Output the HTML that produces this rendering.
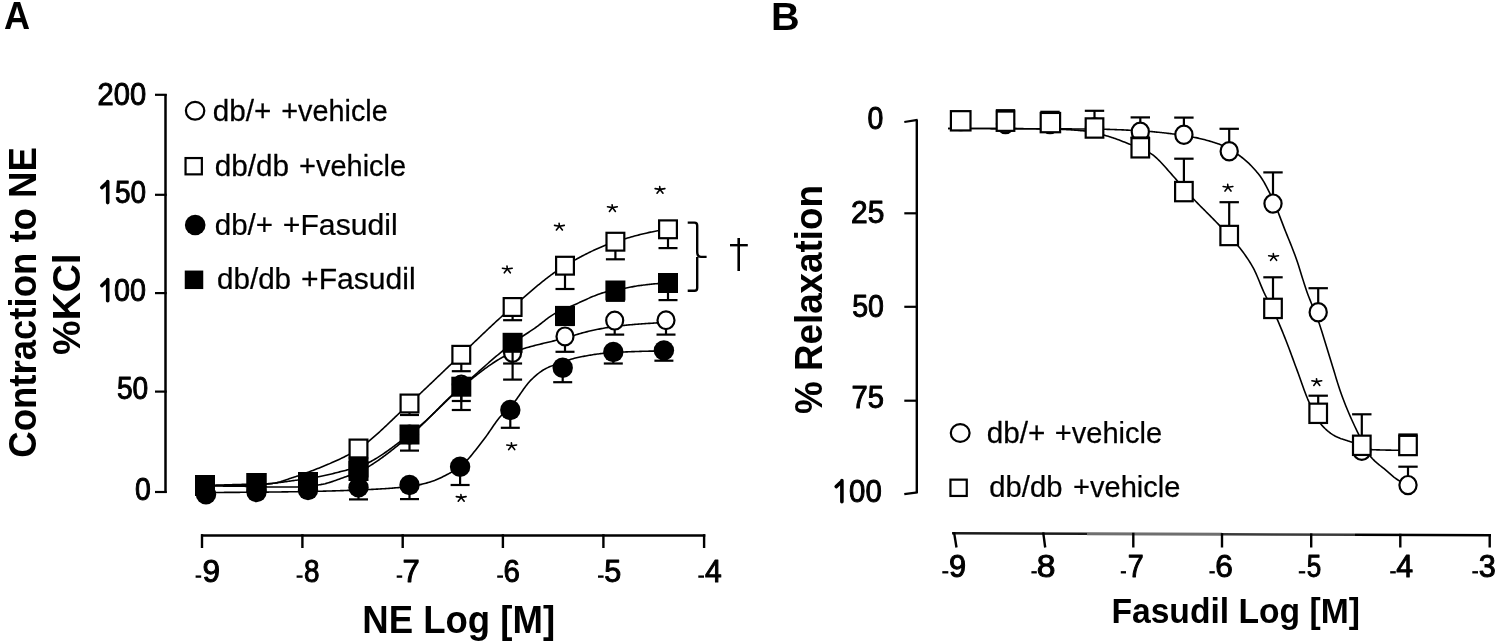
<!DOCTYPE html>
<html><head><meta charset="utf-8"><style>
html,body{margin:0;padding:0;background:#fff;}
svg{display:block;will-change:transform;}
text{font-family:"Liberation Sans",sans-serif;}
</style></head><body>
<svg width="1500" height="644" viewBox="0 0 1500 644">
<rect width="1500" height="644" fill="#fff"/>
<text transform="translate(4.10,29.00) scale(0.9505,1)" font-size="38.00" font-weight="bold" fill="#000">A</text>
<line x1="165.50" y1="94.00" x2="165.50" y2="493.00" stroke="#000" stroke-width="2.5" stroke-linecap="butt"/>
<line x1="155.00" y1="94.80" x2="166.70" y2="94.80" stroke="#000" stroke-width="2.2" stroke-linecap="butt"/>
<line x1="155.00" y1="194.80" x2="166.70" y2="194.80" stroke="#000" stroke-width="2.2" stroke-linecap="butt"/>
<line x1="155.00" y1="293.10" x2="166.70" y2="293.10" stroke="#000" stroke-width="2.2" stroke-linecap="butt"/>
<line x1="155.00" y1="391.60" x2="166.70" y2="391.60" stroke="#000" stroke-width="2.2" stroke-linecap="butt"/>
<line x1="155.00" y1="492.00" x2="166.70" y2="492.00" stroke="#000" stroke-width="2.2" stroke-linecap="butt"/>
<text transform="translate(97.51,104.50) scale(0.9372,1)" font-size="31.07" font-weight="normal" fill="#000" stroke="#000" stroke-width="1.0" stroke-linejoin="round">200</text>
<text transform="translate(114.93,202.70) scale(0.8999,1)" font-size="31.07" font-weight="normal" fill="#000" stroke="#000" stroke-width="1.0" stroke-linejoin="round">50</text>
<path d="M101.80,187.60 L107.70,182.20 M107.70,181.60 L107.70,202.60" fill="none" stroke="#000" stroke-width="3.6" stroke-linecap="round" stroke-linejoin="round"/>
<text transform="translate(114.11,300.70) scale(0.9241,1)" font-size="31.07" font-weight="normal" fill="#000" stroke="#000" stroke-width="1.0" stroke-linejoin="round">00</text>
<path d="M101.80,285.60 L107.70,280.20 M107.70,279.60 L107.70,300.80" fill="none" stroke="#000" stroke-width="3.6" stroke-linecap="round" stroke-linejoin="round"/>
<text transform="translate(116.93,398.90) scale(0.9060,1)" font-size="31.07" font-weight="normal" fill="#000" stroke="#000" stroke-width="1.0" stroke-linejoin="round">50</text>
<text transform="translate(134.92,499.50) scale(0.9138,1)" font-size="31.07" font-weight="normal" fill="#000" stroke="#000" stroke-width="1.0" stroke-linejoin="round">0</text>
<line x1="201.00" y1="535.50" x2="705.30" y2="535.50" stroke="#000" stroke-width="2.6" stroke-linecap="butt"/>
<line x1="202.00" y1="534.20" x2="202.00" y2="548.00" stroke="#000" stroke-width="2.4" stroke-linecap="butt"/>
<line x1="302.40" y1="534.20" x2="302.40" y2="548.00" stroke="#000" stroke-width="2.4" stroke-linecap="butt"/>
<line x1="402.70" y1="534.20" x2="402.70" y2="548.00" stroke="#000" stroke-width="2.4" stroke-linecap="butt"/>
<line x1="502.90" y1="534.20" x2="502.90" y2="548.00" stroke="#000" stroke-width="2.4" stroke-linecap="butt"/>
<line x1="603.40" y1="534.20" x2="603.40" y2="548.00" stroke="#000" stroke-width="2.4" stroke-linecap="butt"/>
<line x1="704.10" y1="534.20" x2="704.10" y2="548.00" stroke="#000" stroke-width="2.4" stroke-linecap="butt"/>
<rect x="195.60" y="575.45" width="5.60" height="2.3" fill="#000"/>
<text transform="translate(202.49,581.90) scale(1.0163,1)" font-size="31.07" font-weight="normal" fill="#000" stroke="#000" stroke-width="1.0" stroke-linejoin="round">9</text>
<rect x="296.60" y="575.45" width="6.00" height="2.3" fill="#000"/>
<text transform="translate(303.99,581.90) scale(0.8972,1)" font-size="31.07" font-weight="normal" fill="#000" stroke="#000" stroke-width="1.0" stroke-linejoin="round">8</text>
<rect x="396.70" y="575.45" width="5.50" height="2.3" fill="#000"/>
<text transform="translate(402.55,581.90) scale(0.9975,1)" font-size="31.07" font-weight="normal" fill="#000" stroke="#000" stroke-width="1.0" stroke-linejoin="round">7</text>
<rect x="497.20" y="575.45" width="5.80" height="2.3" fill="#000"/>
<text transform="translate(503.50,581.90) scale(0.9482,1)" font-size="31.07" font-weight="normal" fill="#000" stroke="#000" stroke-width="1.0" stroke-linejoin="round">6</text>
<rect x="598.00" y="575.45" width="5.60" height="2.3" fill="#000"/>
<text transform="translate(604.17,581.90) scale(0.9836,1)" font-size="31.07" font-weight="normal" fill="#000" stroke="#000" stroke-width="1.0" stroke-linejoin="round">5</text>
<rect x="698.30" y="575.45" width="5.70" height="2.3" fill="#000"/>
<text transform="translate(705.03,581.90) scale(0.9676,1)" font-size="31.07" font-weight="normal" fill="#000" stroke="#000" stroke-width="1.0" stroke-linejoin="round">4</text>
<text transform="translate(362.32,632.50) scale(0.9618,1)" font-size="38.00" font-weight="bold" fill="#000">NE Log [M]</text>
<text transform="translate(36.30,457.66) rotate(-90) scale(0.9617,1)" font-size="38" font-weight="bold">Contraction to NE</text>
<text transform="translate(79.80,354.97) rotate(-90) scale(1.0244,1)" font-size="38" font-weight="bold">%KCl</text>
<ellipse cx="195.10" cy="110.80" rx="9.20" ry="8.90" fill="#fff" stroke="#000" stroke-width="2.2"/>
<text transform="translate(212.63,120.88) scale(0.9931,1)" font-size="29.94" font-weight="normal" fill="#000" stroke="#000" stroke-width="0.25" stroke-linejoin="round">db/+</text>
<text transform="translate(281.18,120.88) scale(0.9635,1)" font-size="29.94" font-weight="normal" fill="#000" stroke="#000" stroke-width="0.25" stroke-linejoin="round">+vehicle</text>
<rect x="185.55" y="158.05" width="16.30" height="16.30" fill="#fff" stroke="#000" stroke-width="2.2"/>
<text transform="translate(214.73,175.57) scale(0.9930,1)" font-size="29.94" font-weight="normal" fill="#000" stroke="#000" stroke-width="0.25" stroke-linejoin="round">db/db</text>
<text transform="translate(298.97,175.57) scale(0.9690,1)" font-size="29.94" font-weight="normal" fill="#000" stroke="#000" stroke-width="0.25" stroke-linejoin="round">+vehicle</text>
<circle cx="195.20" cy="225.00" r="10.30" fill="#000"/>
<text transform="translate(214.74,235.47) scale(0.9860,1)" font-size="29.94" font-weight="normal" fill="#000" stroke="#000" stroke-width="0.25" stroke-linejoin="round">db/+</text>
<text transform="translate(282.82,235.47) scale(1.0078,1)" font-size="29.94" font-weight="normal" fill="#000" stroke="#000" stroke-width="0.25" stroke-linejoin="round">+Fasudil</text>
<rect x="184.75" y="270.55" width="18.50" height="18.50" fill="#000"/>
<text transform="translate(216.94,288.98) scale(0.9902,1)" font-size="29.94" font-weight="normal" fill="#000" stroke="#000" stroke-width="0.25" stroke-linejoin="round">db/db</text>
<text transform="translate(301.12,288.98) scale(1.0042,1)" font-size="29.94" font-weight="normal" fill="#000" stroke="#000" stroke-width="0.25" stroke-linejoin="round">+Fasudil</text>
<polyline points="205.00,486.00 206.16,486.00 207.31,486.00 208.47,486.00 209.62,486.01 210.78,486.01 211.93,486.01 213.09,486.02 214.24,486.02 215.40,486.02 216.55,486.03 217.71,486.04 218.86,486.04 220.02,486.05 221.18,486.06 222.33,486.07 223.49,486.08 224.64,486.09 225.80,486.09 226.95,486.11 228.11,486.12 229.26,486.13 230.42,486.14 231.57,486.15 232.73,486.16 233.88,486.18 235.04,486.19 236.20,486.20 237.35,486.22 238.51,486.23 239.66,486.25 240.82,486.26 241.97,486.28 243.13,486.30 244.28,486.31 245.44,486.33 246.59,486.35 247.75,486.36 248.90,486.38 250.06,486.40 251.22,486.42 252.37,486.44 253.53,486.46 254.68,486.48 255.84,486.50 256.99,486.52 258.15,486.56 259.30,486.60 260.46,486.66 261.61,486.71 262.77,486.77 263.92,486.82 265.08,486.88 266.24,486.92 267.39,486.96 268.55,486.99 269.70,487.00 270.86,487.00 272.01,487.00 273.17,487.00 274.32,487.00 275.48,487.00 276.63,487.00 277.79,487.00 278.94,487.00 280.10,487.00 281.26,487.00 282.41,487.00 283.57,487.00 284.72,487.00 285.88,487.00 287.03,487.00 288.19,487.00 289.34,487.00 290.50,487.00 291.65,487.00 292.81,487.00 293.96,487.00 295.12,487.00 296.28,486.98 297.43,486.94 298.59,486.88 299.74,486.80 300.90,486.70 302.05,486.59 303.21,486.48 304.36,486.36 305.52,486.24 306.67,486.13 307.83,486.02 308.98,485.91 310.14,485.81 311.30,485.70 312.45,485.59 313.61,485.48 314.76,485.36 315.92,485.24 317.07,485.10 318.23,484.95 319.38,484.79 320.54,484.62 321.69,484.41 322.85,484.19 324.01,483.93 325.16,483.66 326.32,483.36 327.47,483.05 328.63,482.72 329.78,482.37 330.94,482.00 332.09,481.62 333.25,481.24 334.40,480.84 335.56,480.43 336.71,480.02 337.87,479.60 339.03,479.18 340.18,478.75 341.34,478.33 342.49,477.91 343.65,477.49 344.80,477.07 345.96,476.66 347.11,476.26 348.27,475.87 349.42,475.47 350.58,475.08 351.73,474.68 352.89,474.27 354.05,473.84 355.20,473.40 356.36,472.93 357.51,472.44 358.67,471.92 359.82,471.38 360.98,470.82 362.13,470.23 363.29,469.63 364.44,469.01 365.60,468.37 366.75,467.72 367.91,467.04 369.07,466.36 370.22,465.65 371.38,464.93 372.53,464.20 373.69,463.45 374.84,462.69 376.00,461.91 377.15,461.12 378.31,460.32 379.46,459.51 380.62,458.68 381.77,457.85 382.93,457.01 384.09,456.15 385.24,455.29 386.40,454.42 387.55,453.54 388.71,452.65 389.86,451.76 391.02,450.86 392.17,449.95 393.33,449.04 394.48,448.12 395.64,447.20 396.79,446.28 397.95,445.35 399.11,444.42 400.26,443.49 401.42,442.55 402.57,441.61 403.73,440.68 404.88,439.74 406.04,438.80 407.19,437.87 408.35,436.93 409.50,436.00 410.66,435.05 411.81,434.09 412.97,433.11 414.13,432.10 415.28,431.08 416.44,430.05 417.59,428.99 418.75,427.92 419.90,426.84 421.06,425.75 422.21,424.64 423.37,423.52 424.52,422.39 425.68,421.26 426.83,420.11 427.99,418.96 429.15,417.80 430.30,416.64 431.46,415.47 432.61,414.30 433.77,413.13 434.92,411.96 436.08,410.79 437.23,409.61 438.39,408.44 439.54,407.28 440.70,406.12 441.85,404.96 443.01,403.81 444.17,402.66 445.32,401.52 446.48,400.40 447.63,399.28 448.79,398.17 449.94,397.08 451.10,395.99 452.25,394.93 453.41,393.87 454.56,392.84 455.72,391.82 456.87,390.81 458.03,389.83 459.19,388.87 460.34,387.92 461.50,387.00 462.65,386.09 463.81,385.18 464.96,384.26 466.12,383.35 467.27,382.43 468.43,381.51 469.58,380.59 470.74,379.68 471.89,378.76 473.05,377.85 474.21,376.94 475.36,376.03 476.52,375.13 477.67,374.23 478.83,373.34 479.98,372.46 481.14,371.58 482.29,370.70 483.45,369.84 484.60,368.98 485.76,368.14 486.91,367.30 488.07,366.47 489.23,365.66 490.38,364.85 491.54,364.06 492.69,363.28 493.85,362.51 495.00,361.76 496.16,361.02 497.31,360.30 498.47,359.59 499.62,358.90 500.78,358.23 501.93,357.57 503.09,356.94 504.25,356.32 505.40,355.72 506.56,355.14 507.71,354.58 508.87,354.04 510.02,353.53 511.18,353.04 512.33,352.57 513.49,352.12 514.64,351.68 515.80,351.25 516.95,350.83 518.11,350.43 519.27,350.03 520.42,349.65 521.58,349.27 522.73,348.90 523.89,348.54 525.04,348.19 526.20,347.85 527.35,347.51 528.51,347.18 529.66,346.86 530.82,346.54 531.97,346.23 533.13,345.92 534.29,345.62 535.44,345.33 536.60,345.03 537.75,344.74 538.91,344.46 540.06,344.18 541.22,343.89 542.37,343.62 543.53,343.34 544.68,343.06 545.84,342.79 546.99,342.52 548.15,342.24 549.31,341.97 550.46,341.69 551.62,341.42 552.77,341.14 553.93,340.86 555.08,340.58 556.24,340.29 557.39,340.00 558.55,339.71 559.70,339.42 560.86,339.12 562.02,338.81 563.17,338.50 564.33,338.19 565.48,337.87 566.64,337.54 567.79,337.21 568.95,336.87 570.10,336.53 571.26,336.18 572.41,335.84 573.57,335.49 574.72,335.15 575.88,334.80 577.04,334.46 578.19,334.12 579.35,333.78 580.50,333.45 581.66,333.12 582.81,332.80 583.97,332.48 585.12,332.18 586.28,331.88 587.43,331.60 588.59,331.32 589.74,331.06 590.90,330.80 592.06,330.55 593.21,330.30 594.37,330.06 595.52,329.81 596.68,329.58 597.83,329.34 598.99,329.11 600.14,328.88 601.30,328.66 602.45,328.45 603.61,328.23 604.76,328.03 605.92,327.83 607.08,327.63 608.23,327.44 609.39,327.26 610.54,327.08 611.70,326.91 612.85,326.75 614.01,326.59 615.16,326.44 616.32,326.30 617.47,326.15 618.63,326.02 619.78,325.88 620.94,325.75 622.10,325.62 623.25,325.50 624.41,325.37 625.56,325.25 626.72,325.14 627.87,325.02 629.03,324.91 630.18,324.81 631.34,324.70 632.49,324.60 633.65,324.50 634.80,324.40 635.96,324.31 637.12,324.22 638.27,324.13 639.43,324.04 640.58,323.96 641.74,323.87 642.89,323.79 644.05,323.71 645.20,323.63 646.36,323.55 647.51,323.48 648.67,323.40 649.82,323.33 650.98,323.25 652.14,323.18 653.29,323.12 654.45,323.05 655.60,322.98 656.76,322.92 657.91,322.86 659.07,322.80 660.22,322.75 661.38,322.69 662.53,322.64 663.69,322.59 664.84,322.54 666.00,322.50" fill="none" stroke="#000" stroke-width="1.6" stroke-linejoin="round"/>
<polyline points="205.00,492.50 206.15,492.50 207.30,492.49 208.45,492.49 209.60,492.49 210.75,492.48 211.90,492.48 213.05,492.48 214.20,492.47 215.35,492.47 216.50,492.46 217.65,492.46 218.80,492.45 219.95,492.45 221.11,492.44 222.26,492.44 223.41,492.43 224.56,492.42 225.71,492.42 226.86,492.41 228.01,492.40 229.16,492.40 230.31,492.39 231.46,492.38 232.61,492.38 233.76,492.37 234.91,492.36 236.06,492.35 237.21,492.34 238.36,492.34 239.51,492.33 240.66,492.32 241.81,492.31 242.96,492.30 244.11,492.29 245.26,492.29 246.41,492.28 247.56,492.27 248.71,492.26 249.86,492.25 251.02,492.24 252.17,492.23 253.32,492.22 254.47,492.21 255.62,492.20 256.77,492.19 257.92,492.18 259.07,492.17 260.22,492.16 261.37,492.15 262.52,492.14 263.67,492.13 264.82,492.12 265.97,492.11 267.12,492.10 268.27,492.08 269.42,492.07 270.57,492.06 271.72,492.05 272.87,492.03 274.02,492.02 275.17,492.01 276.32,491.99 277.47,491.98 278.62,491.96 279.77,491.95 280.92,491.93 282.08,491.92 283.23,491.90 284.38,491.88 285.53,491.87 286.68,491.85 287.83,491.84 288.98,491.82 290.13,491.80 291.28,491.78 292.43,491.77 293.58,491.75 294.73,491.73 295.88,491.71 297.03,491.69 298.18,491.67 299.33,491.65 300.48,491.63 301.63,491.61 302.78,491.59 303.93,491.57 305.08,491.55 306.23,491.53 307.38,491.51 308.53,491.49 309.68,491.47 310.83,491.45 311.98,491.42 313.14,491.40 314.29,491.38 315.44,491.35 316.59,491.33 317.74,491.30 318.89,491.27 320.04,491.25 321.19,491.22 322.34,491.19 323.49,491.16 324.64,491.13 325.79,491.10 326.94,491.07 328.09,491.04 329.24,491.01 330.39,490.98 331.54,490.94 332.69,490.91 333.84,490.88 334.99,490.84 336.14,490.81 337.29,490.77 338.44,490.73 339.59,490.70 340.74,490.66 341.89,490.62 343.05,490.58 344.20,490.54 345.35,490.50 346.50,490.46 347.65,490.42 348.80,490.38 349.95,490.34 351.10,490.29 352.25,490.25 353.40,490.21 354.55,490.16 355.70,490.11 356.85,490.07 358.00,490.02 359.15,489.97 360.30,489.92 361.45,489.88 362.60,489.83 363.75,489.78 364.90,489.72 366.05,489.67 367.20,489.62 368.35,489.57 369.50,489.51 370.65,489.46 371.80,489.40 372.95,489.34 374.11,489.28 375.26,489.22 376.41,489.16 377.56,489.09 378.71,489.03 379.86,488.96 381.01,488.89 382.16,488.82 383.31,488.75 384.46,488.68 385.61,488.60 386.76,488.52 387.91,488.44 389.06,488.36 390.21,488.28 391.36,488.19 392.51,488.10 393.66,488.01 394.81,487.92 395.96,487.82 397.11,487.73 398.26,487.63 399.41,487.52 400.56,487.42 401.71,487.31 402.86,487.20 404.02,487.08 405.17,486.97 406.32,486.85 407.47,486.72 408.62,486.60 409.77,486.47 410.92,486.33 412.07,486.17 413.22,485.99 414.37,485.80 415.52,485.59 416.67,485.37 417.82,485.14 418.97,484.89 420.12,484.63 421.27,484.36 422.42,484.08 423.57,483.79 424.72,483.49 425.87,483.18 427.02,482.86 428.17,482.53 429.32,482.20 430.47,481.86 431.62,481.49 432.77,481.10 433.92,480.68 435.08,480.24 436.23,479.77 437.38,479.28 438.53,478.78 439.68,478.25 440.83,477.71 441.98,477.16 443.13,476.59 444.28,476.01 445.43,475.42 446.58,474.82 447.73,474.21 448.88,473.60 450.03,472.98 451.18,472.36 452.33,471.72 453.48,471.07 454.63,470.39 455.78,469.68 456.93,468.94 458.08,468.16 459.23,467.35 460.38,466.48 461.53,465.57 462.68,464.58 463.83,463.54 464.98,462.42 466.14,461.26 467.29,460.04 468.44,458.77 469.59,457.46 470.74,456.11 471.89,454.72 473.04,453.31 474.19,451.86 475.34,450.40 476.49,448.92 477.64,447.43 478.79,445.92 479.94,444.42 481.09,442.91 482.24,441.41 483.39,439.92 484.54,438.45 485.69,436.94 486.84,435.37 487.99,433.74 489.14,432.08 490.29,430.40 491.44,428.70 492.59,427.01 493.74,425.32 494.89,423.67 496.05,422.06 497.20,420.50 498.35,419.00 499.50,417.59 500.65,416.27 501.80,415.03 502.95,413.86 504.10,412.74 505.25,411.66 506.40,410.59 507.55,409.51 508.70,408.42 509.85,407.28 511.00,406.09 512.15,404.83 513.30,403.48 514.45,402.04 515.60,400.52 516.75,398.95 517.90,397.33 519.05,395.69 520.20,394.02 521.35,392.35 522.50,390.69 523.65,389.05 524.80,387.44 525.95,385.89 527.11,384.40 528.26,382.98 529.41,381.66 530.56,380.44 531.71,379.32 532.86,378.23 534.01,377.16 535.16,376.13 536.31,375.13 537.46,374.17 538.61,373.25 539.76,372.37 540.91,371.54 542.06,370.75 543.21,370.02 544.36,369.35 545.51,368.73 546.66,368.15 547.81,367.61 548.96,367.09 550.11,366.60 551.26,366.13 552.41,365.68 553.56,365.25 554.71,364.83 555.86,364.43 557.02,364.03 558.17,363.63 559.32,363.24 560.47,362.84 561.62,362.44 562.77,362.04 563.92,361.64 565.07,361.25 566.22,360.86 567.37,360.47 568.52,360.09 569.67,359.72 570.82,359.36 571.97,359.01 573.12,358.68 574.27,358.35 575.42,358.04 576.57,357.75 577.72,357.48 578.87,357.23 580.02,357.00 581.17,356.78 582.32,356.56 583.47,356.34 584.62,356.13 585.77,355.92 586.92,355.72 588.08,355.52 589.23,355.32 590.38,355.13 591.53,354.94 592.68,354.76 593.83,354.58 594.98,354.40 596.13,354.24 597.28,354.07 598.43,353.92 599.58,353.76 600.73,353.62 601.88,353.48 603.03,353.35 604.18,353.22 605.33,353.10 606.48,352.99 607.63,352.89 608.78,352.80 609.93,352.71 611.08,352.63 612.23,352.56 613.38,352.50 614.53,352.44 615.68,352.38 616.83,352.32 617.98,352.27 619.14,352.21 620.29,352.16 621.44,352.11 622.59,352.05 623.74,352.00 624.89,351.95 626.04,351.90 627.19,351.85 628.34,351.80 629.49,351.76 630.64,351.71 631.79,351.67 632.94,351.62 634.09,351.58 635.24,351.54 636.39,351.50 637.54,351.46 638.69,351.43 639.84,351.39 640.99,351.36 642.14,351.32 643.29,351.29 644.44,351.26 645.59,351.23 646.74,351.21 647.89,351.18 649.05,351.16 650.20,351.13 651.35,351.11 652.50,351.09 653.65,351.08 654.80,351.06 655.95,351.05 657.10,351.03 658.25,351.02 659.40,351.02 660.55,351.01 661.70,351.00 662.85,351.00 664.00,351.00" fill="none" stroke="#000" stroke-width="1.6" stroke-linejoin="round"/>
<polyline points="205.00,485.50 206.16,485.50 207.32,485.50 208.48,485.50 209.64,485.50 210.80,485.49 211.96,485.49 213.12,485.49 214.28,485.49 215.44,485.48 216.60,485.48 217.76,485.47 218.92,485.47 220.09,485.46 221.25,485.45 222.41,485.45 223.57,485.44 224.73,485.43 225.89,485.42 227.05,485.41 228.21,485.40 229.37,485.39 230.53,485.38 231.69,485.37 232.85,485.36 234.01,485.35 235.17,485.33 236.33,485.32 237.49,485.31 238.65,485.29 239.81,485.28 240.97,485.26 242.13,485.24 243.29,485.23 244.45,485.21 245.61,485.19 246.77,485.17 247.93,485.15 249.10,485.13 250.26,485.11 251.42,485.09 252.58,485.07 253.74,485.05 254.90,485.02 256.06,485.00 257.22,484.96 258.38,484.90 259.54,484.82 260.70,484.73 261.86,484.62 263.02,484.50 264.18,484.37 265.34,484.24 266.50,484.10 267.66,483.96 268.82,483.83 269.98,483.70 271.14,483.58 272.30,483.44 273.46,483.31 274.62,483.17 275.78,483.03 276.94,482.88 278.11,482.73 279.27,482.58 280.43,482.43 281.59,482.27 282.75,482.12 283.91,481.96 285.07,481.80 286.23,481.63 287.39,481.47 288.55,481.31 289.71,481.14 290.87,480.98 292.03,480.82 293.19,480.65 294.35,480.49 295.51,480.33 296.67,480.17 297.83,480.00 298.99,479.84 300.15,479.67 301.31,479.50 302.47,479.33 303.63,479.16 304.79,478.99 305.95,478.81 307.12,478.64 308.28,478.46 309.44,478.28 310.60,478.10 311.76,477.91 312.92,477.73 314.08,477.54 315.24,477.35 316.40,477.15 317.56,476.95 318.72,476.74 319.88,476.52 321.04,476.30 322.20,476.06 323.36,475.82 324.52,475.57 325.68,475.31 326.84,475.05 328.00,474.78 329.16,474.51 330.32,474.23 331.48,473.95 332.64,473.66 333.80,473.37 334.96,473.08 336.13,472.79 337.29,472.49 338.45,472.19 339.61,471.89 340.77,471.59 341.93,471.30 343.09,471.00 344.25,470.70 345.41,470.40 346.57,470.11 347.73,469.82 348.89,469.54 350.05,469.27 351.21,468.99 352.37,468.72 353.53,468.43 354.69,468.14 355.85,467.82 357.01,467.48 358.17,467.11 359.33,466.71 360.49,466.28 361.65,465.84 362.81,465.36 363.97,464.87 365.14,464.35 366.30,463.81 367.46,463.25 368.62,462.67 369.78,462.07 370.94,461.45 372.10,460.81 373.26,460.15 374.42,459.48 375.58,458.79 376.74,458.09 377.90,457.37 379.06,456.63 380.22,455.89 381.38,455.13 382.54,454.35 383.70,453.57 384.86,452.77 386.02,451.97 387.18,451.15 388.34,450.33 389.50,449.49 390.66,448.65 391.82,447.81 392.98,446.95 394.15,446.09 395.31,445.23 396.47,444.36 397.63,443.49 398.79,442.61 399.95,441.73 401.11,440.85 402.27,439.97 403.43,439.09 404.59,438.21 405.75,437.33 406.91,436.45 408.07,435.58 409.23,434.70 410.39,433.83 411.55,432.93 412.71,432.02 413.87,431.09 415.03,430.15 416.19,429.19 417.35,428.22 418.51,427.23 419.67,426.23 420.83,425.22 421.99,424.20 423.16,423.16 424.32,422.12 425.48,421.06 426.64,419.99 427.80,418.92 428.96,417.84 430.12,416.75 431.28,415.65 432.44,414.55 433.60,413.45 434.76,412.33 435.92,411.22 437.08,410.10 438.24,408.98 439.40,407.86 440.56,406.73 441.72,405.61 442.88,404.48 444.04,403.36 445.20,402.24 446.36,401.12 447.52,400.00 448.68,398.89 449.84,397.78 451.01,396.67 452.17,395.57 453.33,394.48 454.49,393.39 455.65,392.31 456.81,391.24 457.97,390.17 459.13,389.12 460.29,388.08 461.45,387.05 462.61,386.02 463.77,384.99 464.93,383.95 466.09,382.92 467.25,381.88 468.41,380.84 469.57,379.80 470.73,378.76 471.89,377.72 473.05,376.68 474.21,375.63 475.37,374.59 476.53,373.55 477.69,372.51 478.85,371.47 480.02,370.43 481.18,369.40 482.34,368.36 483.50,367.33 484.66,366.30 485.82,365.27 486.98,364.25 488.14,363.23 489.30,362.22 490.46,361.21 491.62,360.20 492.78,359.20 493.94,358.20 495.10,357.21 496.26,356.23 497.42,355.25 498.58,354.28 499.74,353.31 500.90,352.35 502.06,351.40 503.22,350.46 504.38,349.52 505.54,348.59 506.70,347.67 507.86,346.76 509.03,345.86 510.19,344.97 511.35,344.09 512.51,343.22 513.67,342.36 514.83,341.52 515.99,340.70 517.15,339.89 518.31,339.09 519.47,338.30 520.63,337.53 521.79,336.76 522.95,336.00 524.11,335.24 525.27,334.48 526.43,333.73 527.59,332.97 528.75,332.21 529.91,331.45 531.07,330.68 532.23,329.90 533.39,329.11 534.55,328.31 535.71,327.49 536.87,326.65 538.04,325.78 539.20,324.90 540.36,324.00 541.52,323.09 542.68,322.17 543.84,321.26 545.00,320.36 546.16,319.46 547.32,318.58 548.48,317.72 549.64,316.89 550.80,316.08 551.96,315.31 553.12,314.58 554.28,313.90 555.44,313.26 556.60,312.68 557.76,312.13 558.92,311.60 560.08,311.10 561.24,310.61 562.40,310.12 563.56,309.63 564.72,309.12 565.88,308.60 567.05,308.07 568.21,307.55 569.37,307.02 570.53,306.49 571.69,305.97 572.85,305.45 574.01,304.93 575.17,304.43 576.33,303.92 577.49,303.40 578.65,302.88 579.81,302.35 580.97,301.82 582.13,301.29 583.29,300.75 584.45,300.22 585.61,299.69 586.77,299.16 587.93,298.63 589.09,298.11 590.25,297.60 591.41,297.10 592.57,296.60 593.73,296.12 594.89,295.64 596.06,295.19 597.22,294.74 598.38,294.31 599.54,293.90 600.70,293.51 601.86,293.13 603.02,292.78 604.18,292.45 605.34,292.14 606.50,291.85 607.66,291.58 608.82,291.31 609.98,291.06 611.14,290.82 612.30,290.58 613.46,290.35 614.62,290.12 615.78,289.88 616.94,289.66 618.10,289.43 619.26,289.22 620.42,289.00 621.58,288.79 622.74,288.59 623.90,288.38 625.07,288.17 626.23,287.96 627.39,287.74 628.55,287.52 629.71,287.29 630.87,287.06 632.03,286.84 633.19,286.61 634.35,286.39 635.51,286.18 636.67,285.99 637.83,285.80 638.99,285.63 640.15,285.48 641.31,285.34 642.47,285.20 643.63,285.06 644.79,284.92 645.95,284.78 647.11,284.65 648.27,284.52 649.43,284.39 650.59,284.27 651.75,284.14 652.91,284.03 654.08,283.91 655.24,283.81 656.40,283.70 657.56,283.60 658.72,283.51 659.88,283.42 661.04,283.34 662.20,283.27 663.36,283.20 664.52,283.14 665.68,283.08 666.84,283.04 668.00,283.00" fill="none" stroke="#000" stroke-width="1.6" stroke-linejoin="round"/>
<polyline points="205.00,485.50 206.16,485.47 207.32,485.43 208.48,485.40 209.64,485.36 210.80,485.33 211.96,485.29 213.12,485.26 214.28,485.22 215.44,485.19 216.60,485.15 217.76,485.12 218.92,485.08 220.09,485.05 221.25,485.02 222.41,484.98 223.57,484.95 224.73,484.91 225.89,484.88 227.05,484.84 228.21,484.81 229.37,484.78 230.53,484.74 231.69,484.71 232.85,484.67 234.01,484.64 235.17,484.61 236.33,484.57 237.49,484.54 238.65,484.50 239.81,484.47 240.97,484.44 242.13,484.40 243.29,484.37 244.45,484.33 245.61,484.30 246.77,484.27 247.93,484.23 249.10,484.20 250.26,484.17 251.42,484.13 252.58,484.10 253.74,484.07 254.90,484.03 256.06,484.00 257.22,483.97 258.38,483.94 259.54,483.91 260.70,483.89 261.86,483.86 263.02,483.83 264.18,483.80 265.34,483.77 266.50,483.74 267.66,483.70 268.82,483.65 269.98,483.60 271.14,483.53 272.30,483.41 273.46,483.26 274.62,483.07 275.78,482.85 276.94,482.60 278.11,482.32 279.27,482.02 280.43,481.70 281.59,481.35 282.75,480.99 283.91,480.62 285.07,480.23 286.23,479.84 287.39,479.44 288.55,479.03 289.71,478.62 290.87,478.22 292.03,477.82 293.19,477.42 294.35,477.03 295.51,476.65 296.67,476.29 297.83,475.91 298.99,475.52 300.15,475.12 301.31,474.72 302.47,474.30 303.63,473.88 304.79,473.45 305.95,473.02 307.12,472.59 308.28,472.15 309.44,471.71 310.60,471.28 311.76,470.84 312.92,470.40 314.08,469.95 315.24,469.51 316.40,469.06 317.56,468.61 318.72,468.15 319.88,467.69 321.04,467.23 322.20,466.76 323.36,466.29 324.52,465.81 325.68,465.33 326.84,464.85 328.00,464.36 329.16,463.86 330.32,463.36 331.48,462.85 332.64,462.34 333.80,461.83 334.96,461.31 336.13,460.78 337.29,460.25 338.45,459.71 339.61,459.17 340.77,458.61 341.93,458.05 343.09,457.48 344.25,456.91 345.41,456.32 346.57,455.72 347.73,455.12 348.89,454.51 350.05,453.89 351.21,453.26 352.37,452.61 353.53,451.95 354.69,451.27 355.85,450.57 357.01,449.84 358.17,449.08 359.33,448.30 360.49,447.50 361.65,446.67 362.81,445.83 363.97,444.96 365.14,444.08 366.30,443.18 367.46,442.26 368.62,441.33 369.78,440.38 370.94,439.42 372.10,438.44 373.26,437.45 374.42,436.44 375.58,435.43 376.74,434.40 377.90,433.36 379.06,432.31 380.22,431.25 381.38,430.18 382.54,429.11 383.70,428.02 384.86,426.94 386.02,425.84 387.18,424.74 388.34,423.63 389.50,422.53 390.66,421.41 391.82,420.30 392.98,419.18 394.15,418.06 395.31,416.95 396.47,415.83 397.63,414.71 398.79,413.60 399.95,412.48 401.11,411.37 402.27,410.27 403.43,409.17 404.59,408.07 405.75,406.98 406.91,405.89 408.07,404.82 409.23,403.75 410.39,402.68 411.55,401.62 412.71,400.54 413.87,399.47 415.03,398.39 416.19,397.31 417.35,396.23 418.51,395.15 419.67,394.06 420.83,392.97 421.99,391.87 423.16,390.78 424.32,389.68 425.48,388.59 426.64,387.49 427.80,386.38 428.96,385.28 430.12,384.18 431.28,383.07 432.44,381.97 433.60,380.86 434.76,379.75 435.92,378.64 437.08,377.53 438.24,376.42 439.40,375.32 440.56,374.21 441.72,373.10 442.88,371.99 444.04,370.88 445.20,369.77 446.36,368.66 447.52,367.56 448.68,366.45 449.84,365.34 451.01,364.24 452.17,363.14 453.33,362.04 454.49,360.94 455.65,359.84 456.81,358.74 457.97,357.65 459.13,356.56 460.29,355.47 461.45,354.38 462.61,353.29 463.77,352.20 464.93,351.10 466.09,350.01 467.25,348.91 468.41,347.80 469.57,346.70 470.73,345.60 471.89,344.49 473.05,343.39 474.21,342.28 475.37,341.17 476.53,340.07 477.69,338.96 478.85,337.85 480.02,336.75 481.18,335.64 482.34,334.54 483.50,333.44 484.66,332.33 485.82,331.24 486.98,330.14 488.14,329.04 489.30,327.95 490.46,326.86 491.62,325.77 492.78,324.69 493.94,323.61 495.10,322.53 496.26,321.46 497.42,320.39 498.58,319.33 499.74,318.27 500.90,317.22 502.06,316.17 503.22,315.12 504.38,314.08 505.54,313.05 506.70,312.03 507.86,311.01 509.03,309.99 510.19,308.99 511.35,307.99 512.51,306.99 513.67,306.00 514.83,305.01 515.99,304.02 517.15,303.02 518.31,302.02 519.47,301.02 520.63,300.02 521.79,299.02 522.95,298.02 524.11,297.02 525.27,296.02 526.43,295.02 527.59,294.03 528.75,293.03 529.91,292.04 531.07,291.06 532.23,290.07 533.39,289.09 534.55,288.12 535.71,287.15 536.87,286.19 538.04,285.23 539.20,284.28 540.36,283.33 541.52,282.40 542.68,281.47 543.84,280.55 545.00,279.63 546.16,278.73 547.32,277.84 548.48,276.95 549.64,276.08 550.80,275.21 551.96,274.36 553.12,273.52 554.28,272.69 555.44,271.88 556.60,271.08 557.76,270.29 558.92,269.51 560.08,268.75 561.24,268.01 562.40,267.28 563.56,266.56 564.72,265.86 565.88,265.18 567.05,264.50 568.21,263.82 569.37,263.15 570.53,262.48 571.69,261.81 572.85,261.16 574.01,260.50 575.17,259.85 576.33,259.21 577.49,258.57 578.65,257.94 579.81,257.31 580.97,256.69 582.13,256.08 583.29,255.47 584.45,254.87 585.61,254.27 586.77,253.68 587.93,253.10 589.09,252.53 590.25,251.96 591.41,251.40 592.57,250.85 593.73,250.30 594.89,249.77 596.06,249.24 597.22,248.72 598.38,248.20 599.54,247.70 600.70,247.20 601.86,246.72 603.02,246.24 604.18,245.77 605.34,245.31 606.50,244.86 607.66,244.42 608.82,243.99 609.98,243.56 611.14,243.15 612.30,242.75 613.46,242.36 614.62,241.98 615.78,241.61 616.94,241.25 618.10,240.88 619.26,240.52 620.42,240.16 621.58,239.81 622.74,239.45 623.90,239.10 625.07,238.76 626.23,238.41 627.39,238.07 628.55,237.73 629.71,237.40 630.87,237.07 632.03,236.74 633.19,236.42 634.35,236.10 635.51,235.79 636.67,235.48 637.83,235.17 638.99,234.87 640.15,234.57 641.31,234.28 642.47,234.00 643.63,233.72 644.79,233.44 645.95,233.17 647.11,232.91 648.27,232.65 649.43,232.40 650.59,232.15 651.75,231.92 652.91,231.68 654.08,231.46 655.24,231.24 656.40,231.02 657.56,230.82 658.72,230.62 659.88,230.43 661.04,230.24 662.20,230.07 663.36,229.90 664.52,229.74 665.68,229.58 666.84,229.44 668.00,229.30" fill="none" stroke="#000" stroke-width="1.6" stroke-linejoin="round"/>
<rect x="196.10" y="477.10" width="17.80" height="17.80" fill="#fff" stroke="#000" stroke-width="2.2"/>
<rect x="247.60" y="474.10" width="17.80" height="17.80" fill="#fff" stroke="#000" stroke-width="2.2"/>
<rect x="299.10" y="473.10" width="17.80" height="17.80" fill="#fff" stroke="#000" stroke-width="2.2"/>
<rect x="349.60" y="439.60" width="17.80" height="17.80" fill="#fff" stroke="#000" stroke-width="2.2"/>
<line x1="409.50" y1="403.50" x2="409.50" y2="415.00" stroke="#000" stroke-width="2.2" stroke-linecap="butt"/>
<line x1="400.00" y1="415.00" x2="419.00" y2="415.00" stroke="#000" stroke-width="2.2" stroke-linecap="butt"/>
<rect x="400.60" y="394.60" width="17.80" height="17.80" fill="#fff" stroke="#000" stroke-width="2.2"/>
<line x1="461.30" y1="354.80" x2="461.30" y2="371.20" stroke="#000" stroke-width="2.2" stroke-linecap="butt"/>
<line x1="451.80" y1="371.20" x2="470.80" y2="371.20" stroke="#000" stroke-width="2.2" stroke-linecap="butt"/>
<rect x="452.40" y="345.90" width="17.80" height="17.80" fill="#fff" stroke="#000" stroke-width="2.2"/>
<line x1="512.60" y1="307.00" x2="512.60" y2="320.20" stroke="#000" stroke-width="2.2" stroke-linecap="butt"/>
<line x1="503.10" y1="320.20" x2="522.10" y2="320.20" stroke="#000" stroke-width="2.2" stroke-linecap="butt"/>
<rect x="503.70" y="298.10" width="17.80" height="17.80" fill="#fff" stroke="#000" stroke-width="2.2"/>
<line x1="565.00" y1="265.70" x2="565.00" y2="289.00" stroke="#000" stroke-width="2.2" stroke-linecap="butt"/>
<line x1="555.50" y1="289.00" x2="574.50" y2="289.00" stroke="#000" stroke-width="2.2" stroke-linecap="butt"/>
<rect x="556.10" y="256.80" width="17.80" height="17.80" fill="#fff" stroke="#000" stroke-width="2.2"/>
<line x1="615.40" y1="241.70" x2="615.40" y2="259.30" stroke="#000" stroke-width="2.2" stroke-linecap="butt"/>
<line x1="605.90" y1="259.30" x2="624.90" y2="259.30" stroke="#000" stroke-width="2.2" stroke-linecap="butt"/>
<rect x="606.50" y="232.80" width="17.80" height="17.80" fill="#fff" stroke="#000" stroke-width="2.2"/>
<line x1="668.00" y1="229.30" x2="668.00" y2="248.10" stroke="#000" stroke-width="2.2" stroke-linecap="butt"/>
<line x1="658.50" y1="248.10" x2="677.50" y2="248.10" stroke="#000" stroke-width="2.2" stroke-linecap="butt"/>
<rect x="659.10" y="220.40" width="17.80" height="17.80" fill="#fff" stroke="#000" stroke-width="2.2"/>
<ellipse cx="205.00" cy="490.00" rx="8.50" ry="8.90" fill="#fff" stroke="#000" stroke-width="2.2"/>
<ellipse cx="256.50" cy="489.00" rx="8.50" ry="8.90" fill="#fff" stroke="#000" stroke-width="2.2"/>
<ellipse cx="308.00" cy="486.00" rx="8.50" ry="8.90" fill="#fff" stroke="#000" stroke-width="2.2"/>
<ellipse cx="358.50" cy="468.00" rx="8.50" ry="8.90" fill="#fff" stroke="#000" stroke-width="2.2"/>
<ellipse cx="409.50" cy="434.50" rx="8.50" ry="8.90" fill="#fff" stroke="#000" stroke-width="2.2"/>
<line x1="461.30" y1="384.60" x2="461.30" y2="401.00" stroke="#000" stroke-width="2.2" stroke-linecap="butt"/>
<line x1="451.80" y1="401.00" x2="470.80" y2="401.00" stroke="#000" stroke-width="2.2" stroke-linecap="butt"/>
<ellipse cx="461.30" cy="384.60" rx="8.50" ry="8.90" fill="#fff" stroke="#000" stroke-width="2.2"/>
<line x1="512.60" y1="353.00" x2="512.60" y2="379.60" stroke="#000" stroke-width="2.2" stroke-linecap="butt"/>
<line x1="503.10" y1="379.60" x2="522.10" y2="379.60" stroke="#000" stroke-width="2.2" stroke-linecap="butt"/>
<ellipse cx="512.60" cy="353.00" rx="8.50" ry="8.90" fill="#fff" stroke="#000" stroke-width="2.2"/>
<line x1="565.00" y1="336.40" x2="565.00" y2="351.80" stroke="#000" stroke-width="2.2" stroke-linecap="butt"/>
<line x1="555.50" y1="351.80" x2="574.50" y2="351.80" stroke="#000" stroke-width="2.2" stroke-linecap="butt"/>
<ellipse cx="565.00" cy="336.40" rx="8.50" ry="8.90" fill="#fff" stroke="#000" stroke-width="2.2"/>
<line x1="614.70" y1="320.60" x2="614.70" y2="334.60" stroke="#000" stroke-width="2.2" stroke-linecap="butt"/>
<line x1="605.20" y1="334.60" x2="624.20" y2="334.60" stroke="#000" stroke-width="2.2" stroke-linecap="butt"/>
<ellipse cx="614.70" cy="320.60" rx="8.50" ry="8.90" fill="#fff" stroke="#000" stroke-width="2.2"/>
<line x1="666.00" y1="320.30" x2="666.00" y2="334.60" stroke="#000" stroke-width="2.2" stroke-linecap="butt"/>
<line x1="656.50" y1="334.60" x2="675.50" y2="334.60" stroke="#000" stroke-width="2.2" stroke-linecap="butt"/>
<ellipse cx="666.00" cy="320.30" rx="8.50" ry="8.90" fill="#fff" stroke="#000" stroke-width="2.2"/>
<circle cx="206.00" cy="494.40" r="10.20" fill="#000"/>
<circle cx="256.50" cy="492.00" r="10.20" fill="#000"/>
<circle cx="308.00" cy="490.00" r="10.20" fill="#000"/>
<line x1="358.50" y1="487.40" x2="358.50" y2="499.40" stroke="#000" stroke-width="2.2" stroke-linecap="butt"/>
<line x1="349.00" y1="499.40" x2="368.00" y2="499.40" stroke="#000" stroke-width="2.2" stroke-linecap="butt"/>
<circle cx="358.50" cy="487.40" r="10.20" fill="#000"/>
<line x1="409.50" y1="485.00" x2="409.50" y2="499.10" stroke="#000" stroke-width="2.2" stroke-linecap="butt"/>
<line x1="400.00" y1="499.10" x2="419.00" y2="499.10" stroke="#000" stroke-width="2.2" stroke-linecap="butt"/>
<circle cx="409.50" cy="485.00" r="10.20" fill="#000"/>
<line x1="460.10" y1="466.80" x2="460.10" y2="485.00" stroke="#000" stroke-width="2.2" stroke-linecap="butt"/>
<line x1="450.60" y1="485.00" x2="469.60" y2="485.00" stroke="#000" stroke-width="2.2" stroke-linecap="butt"/>
<circle cx="460.10" cy="466.80" r="10.20" fill="#000"/>
<line x1="510.30" y1="410.00" x2="510.30" y2="427.80" stroke="#000" stroke-width="2.2" stroke-linecap="butt"/>
<line x1="500.80" y1="427.80" x2="519.80" y2="427.80" stroke="#000" stroke-width="2.2" stroke-linecap="butt"/>
<circle cx="510.30" cy="410.00" r="10.20" fill="#000"/>
<line x1="562.70" y1="367.70" x2="562.70" y2="382.20" stroke="#000" stroke-width="2.2" stroke-linecap="butt"/>
<line x1="553.20" y1="382.20" x2="572.20" y2="382.20" stroke="#000" stroke-width="2.2" stroke-linecap="butt"/>
<circle cx="562.70" cy="367.70" r="10.20" fill="#000"/>
<line x1="613.30" y1="352.00" x2="613.30" y2="363.50" stroke="#000" stroke-width="2.2" stroke-linecap="butt"/>
<line x1="603.80" y1="363.50" x2="622.80" y2="363.50" stroke="#000" stroke-width="2.2" stroke-linecap="butt"/>
<circle cx="613.30" cy="352.00" r="10.20" fill="#000"/>
<line x1="663.90" y1="350.40" x2="663.90" y2="360.70" stroke="#000" stroke-width="2.2" stroke-linecap="butt"/>
<line x1="654.40" y1="360.70" x2="673.40" y2="360.70" stroke="#000" stroke-width="2.2" stroke-linecap="butt"/>
<circle cx="663.90" cy="350.40" r="10.20" fill="#000"/>
<rect x="195.00" y="475.00" width="20.00" height="20.00" fill="#000"/>
<rect x="246.50" y="473.00" width="20.00" height="20.00" fill="#000"/>
<rect x="298.00" y="472.00" width="20.00" height="20.00" fill="#000"/>
<rect x="348.50" y="457.50" width="20.00" height="20.00" fill="#000"/>
<line x1="409.50" y1="434.50" x2="409.50" y2="450.60" stroke="#000" stroke-width="2.2" stroke-linecap="butt"/>
<line x1="400.00" y1="450.60" x2="419.00" y2="450.60" stroke="#000" stroke-width="2.2" stroke-linecap="butt"/>
<rect x="399.50" y="424.50" width="20.00" height="20.00" fill="#000"/>
<line x1="461.30" y1="386.70" x2="461.30" y2="410.00" stroke="#000" stroke-width="2.2" stroke-linecap="butt"/>
<line x1="451.80" y1="410.00" x2="470.80" y2="410.00" stroke="#000" stroke-width="2.2" stroke-linecap="butt"/>
<rect x="451.30" y="376.70" width="20.00" height="20.00" fill="#000"/>
<line x1="512.60" y1="342.80" x2="512.60" y2="363.50" stroke="#000" stroke-width="2.2" stroke-linecap="butt"/>
<line x1="503.10" y1="363.50" x2="522.10" y2="363.50" stroke="#000" stroke-width="2.2" stroke-linecap="butt"/>
<rect x="502.60" y="332.80" width="20.00" height="20.00" fill="#000"/>
<line x1="565.00" y1="315.90" x2="565.00" y2="325.00" stroke="#000" stroke-width="2.2" stroke-linecap="butt"/>
<line x1="555.50" y1="325.00" x2="574.50" y2="325.00" stroke="#000" stroke-width="2.2" stroke-linecap="butt"/>
<rect x="555.00" y="305.90" width="20.00" height="20.00" fill="#000"/>
<line x1="615.40" y1="290.50" x2="615.40" y2="300.80" stroke="#000" stroke-width="2.2" stroke-linecap="butt"/>
<line x1="605.90" y1="300.80" x2="624.90" y2="300.80" stroke="#000" stroke-width="2.2" stroke-linecap="butt"/>
<rect x="605.40" y="280.50" width="20.00" height="20.00" fill="#000"/>
<line x1="668.00" y1="283.00" x2="668.00" y2="300.10" stroke="#000" stroke-width="2.2" stroke-linecap="butt"/>
<line x1="658.50" y1="300.10" x2="677.50" y2="300.10" stroke="#000" stroke-width="2.2" stroke-linecap="butt"/>
<rect x="658.00" y="273.00" width="20.00" height="20.00" fill="#000"/>
<rect x="348.50" y="461.00" width="20.00" height="20.00" fill="#000"/>
<line x1="507.30" y1="269.00" x2="507.00" y2="266.10" stroke="#000" stroke-width="1.6" stroke-linecap="round"/>
<line x1="507.30" y1="269.00" x2="502.40" y2="268.20" stroke="#000" stroke-width="1.6" stroke-linecap="round"/>
<line x1="507.30" y1="269.00" x2="512.20" y2="268.20" stroke="#000" stroke-width="1.6" stroke-linecap="round"/>
<line x1="507.30" y1="269.00" x2="504.30" y2="272.80" stroke="#000" stroke-width="1.6" stroke-linecap="round"/>
<line x1="507.30" y1="269.00" x2="510.30" y2="272.80" stroke="#000" stroke-width="1.6" stroke-linecap="round"/>
<line x1="559.40" y1="226.20" x2="559.10" y2="223.30" stroke="#000" stroke-width="1.6" stroke-linecap="round"/>
<line x1="559.40" y1="226.20" x2="554.50" y2="225.40" stroke="#000" stroke-width="1.6" stroke-linecap="round"/>
<line x1="559.40" y1="226.20" x2="564.30" y2="225.40" stroke="#000" stroke-width="1.6" stroke-linecap="round"/>
<line x1="559.40" y1="226.20" x2="556.40" y2="230.00" stroke="#000" stroke-width="1.6" stroke-linecap="round"/>
<line x1="559.40" y1="226.20" x2="562.40" y2="230.00" stroke="#000" stroke-width="1.6" stroke-linecap="round"/>
<line x1="612.40" y1="207.60" x2="612.10" y2="204.70" stroke="#000" stroke-width="1.6" stroke-linecap="round"/>
<line x1="612.40" y1="207.60" x2="607.50" y2="206.80" stroke="#000" stroke-width="1.6" stroke-linecap="round"/>
<line x1="612.40" y1="207.60" x2="617.30" y2="206.80" stroke="#000" stroke-width="1.6" stroke-linecap="round"/>
<line x1="612.40" y1="207.60" x2="609.40" y2="211.40" stroke="#000" stroke-width="1.6" stroke-linecap="round"/>
<line x1="612.40" y1="207.60" x2="615.40" y2="211.40" stroke="#000" stroke-width="1.6" stroke-linecap="round"/>
<line x1="660.00" y1="189.40" x2="659.70" y2="186.50" stroke="#000" stroke-width="1.6" stroke-linecap="round"/>
<line x1="660.00" y1="189.40" x2="655.10" y2="188.60" stroke="#000" stroke-width="1.6" stroke-linecap="round"/>
<line x1="660.00" y1="189.40" x2="664.90" y2="188.60" stroke="#000" stroke-width="1.6" stroke-linecap="round"/>
<line x1="660.00" y1="189.40" x2="657.00" y2="193.20" stroke="#000" stroke-width="1.6" stroke-linecap="round"/>
<line x1="660.00" y1="189.40" x2="663.00" y2="193.20" stroke="#000" stroke-width="1.6" stroke-linecap="round"/>
<line x1="511.70" y1="445.80" x2="511.40" y2="442.90" stroke="#000" stroke-width="1.6" stroke-linecap="round"/>
<line x1="511.70" y1="445.80" x2="506.80" y2="445.00" stroke="#000" stroke-width="1.6" stroke-linecap="round"/>
<line x1="511.70" y1="445.80" x2="516.60" y2="445.00" stroke="#000" stroke-width="1.6" stroke-linecap="round"/>
<line x1="511.70" y1="445.80" x2="508.70" y2="449.60" stroke="#000" stroke-width="1.6" stroke-linecap="round"/>
<line x1="511.70" y1="445.80" x2="514.70" y2="449.60" stroke="#000" stroke-width="1.6" stroke-linecap="round"/>
<line x1="461.20" y1="497.40" x2="460.90" y2="494.50" stroke="#000" stroke-width="1.6" stroke-linecap="round"/>
<line x1="461.20" y1="497.40" x2="456.30" y2="496.60" stroke="#000" stroke-width="1.6" stroke-linecap="round"/>
<line x1="461.20" y1="497.40" x2="466.10" y2="496.60" stroke="#000" stroke-width="1.6" stroke-linecap="round"/>
<line x1="461.20" y1="497.40" x2="458.20" y2="501.20" stroke="#000" stroke-width="1.6" stroke-linecap="round"/>
<line x1="461.20" y1="497.40" x2="464.20" y2="501.20" stroke="#000" stroke-width="1.6" stroke-linecap="round"/>
<path d="M687.7,222.6 L694.5,222.6 Q697.2,222.6 697.2,225.5 L697.2,252 Q697.2,256.9 701,256.9 L706.6,256.9 M697.2,256.9 Q697.2,261.8 697.2,262 L697.2,288 Q697.2,290.8 694.5,290.8 L687.7,290.8" fill="none" stroke="#000" stroke-width="2.4"/>
<line x1="738.70" y1="238.00" x2="738.70" y2="271.00" stroke="#000" stroke-width="2.6" stroke-linecap="butt"/>
<line x1="730.00" y1="245.20" x2="747.80" y2="245.20" stroke="#000" stroke-width="2.4" stroke-linecap="butt"/>
<text transform="translate(770.92,29.50) scale(1.0440,1)" font-size="38.00" font-weight="bold" fill="#000">B</text>
<line x1="916.80" y1="119.80" x2="916.80" y2="493.00" stroke="#000" stroke-width="2.4" stroke-linecap="butt"/>
<line x1="904.30" y1="122.00" x2="917.60" y2="119.90" stroke="#000" stroke-width="2.2" stroke-linecap="butt"/>
<line x1="904.30" y1="213.30" x2="917.50" y2="213.30" stroke="#000" stroke-width="2.2" stroke-linecap="butt"/>
<line x1="904.30" y1="306.80" x2="917.50" y2="306.80" stroke="#000" stroke-width="2.2" stroke-linecap="butt"/>
<line x1="904.30" y1="400.70" x2="917.50" y2="400.70" stroke="#000" stroke-width="2.2" stroke-linecap="butt"/>
<line x1="904.30" y1="494.20" x2="917.60" y2="492.30" stroke="#000" stroke-width="2.2" stroke-linecap="butt"/>
<text transform="translate(867.62,129.10) scale(0.9138,1)" font-size="31.07" font-weight="normal" fill="#000" stroke="#000" stroke-width="1.0" stroke-linejoin="round">0</text>
<text transform="translate(851.08,223.10) scale(0.9635,1)" font-size="31.07" font-weight="normal" fill="#000" stroke="#000" stroke-width="1.0" stroke-linejoin="round">25</text>
<text transform="translate(852.22,316.50) scale(0.9181,1)" font-size="31.07" font-weight="normal" fill="#000" stroke="#000" stroke-width="1.0" stroke-linejoin="round">50</text>
<text transform="translate(851.51,407.90) scale(0.9390,1)" font-size="31.07" font-weight="normal" fill="#000" stroke="#000" stroke-width="1.0" stroke-linejoin="round">75</text>
<text transform="translate(849.10,501.70) scale(0.9454,1)" font-size="31.07" font-weight="normal" fill="#000" stroke="#000" stroke-width="1.0" stroke-linejoin="round">00</text>
<path d="M836.20,486.60 L841.90,481.20 M841.90,480.60 L841.90,501.80" fill="none" stroke="#000" stroke-width="3.6" stroke-linecap="round" stroke-linejoin="round"/>
<line x1="952.00" y1="533.30" x2="1087.00" y2="533.80" stroke="#1a1a1a" stroke-width="2.5" stroke-linecap="butt"/>
<line x1="1087.00" y1="533.80" x2="1222.00" y2="534.30" stroke="#6e6e6e" stroke-width="3.0" stroke-linecap="butt"/>
<line x1="1222.00" y1="534.30" x2="1355.00" y2="534.80" stroke="#3a3a3a" stroke-width="2.4" stroke-linecap="butt"/>
<line x1="1355.00" y1="534.80" x2="1491.00" y2="535.30" stroke="#000" stroke-width="2.5" stroke-linecap="butt"/>
<line x1="954.00" y1="532.10" x2="956.50" y2="547.50" stroke="#000" stroke-width="2.4" stroke-linecap="butt"/>
<line x1="1043.20" y1="532.44" x2="1045.20" y2="547.50" stroke="#000" stroke-width="2.4" stroke-linecap="butt"/>
<line x1="1133.30" y1="532.77" x2="1133.30" y2="547.50" stroke="#000" stroke-width="2.4" stroke-linecap="butt"/>
<line x1="1222.00" y1="533.10" x2="1222.00" y2="547.50" stroke="#000" stroke-width="2.4" stroke-linecap="butt"/>
<line x1="1311.20" y1="533.43" x2="1311.20" y2="547.50" stroke="#000" stroke-width="2.4" stroke-linecap="butt"/>
<line x1="1400.30" y1="533.77" x2="1400.30" y2="547.50" stroke="#000" stroke-width="2.4" stroke-linecap="butt"/>
<line x1="1489.70" y1="534.10" x2="1489.70" y2="547.50" stroke="#000" stroke-width="2.4" stroke-linecap="butt"/>
<rect x="942.30" y="571.15" width="6.00" height="2.3" fill="#000"/>
<text transform="translate(949.11,576.80) scale(0.9904,1)" font-size="31.07" font-weight="normal" fill="#000" stroke="#000" stroke-width="1.0" stroke-linejoin="round">9</text>
<rect x="1031.40" y="571.15" width="5.40" height="2.3" fill="#000"/>
<text transform="translate(1036.63,576.80) scale(1.0831,1)" font-size="31.07" font-weight="normal" fill="#000" stroke="#000" stroke-width="1.0" stroke-linejoin="round">8</text>
<rect x="1120.80" y="571.15" width="5.20" height="2.3" fill="#000"/>
<text transform="translate(1127.73,576.80) scale(0.9249,1)" font-size="31.07" font-weight="normal" fill="#000" stroke="#000" stroke-width="1.0" stroke-linejoin="round">7</text>
<rect x="1209.40" y="571.15" width="5.40" height="2.3" fill="#000"/>
<text transform="translate(1215.33,576.80) scale(1.0201,1)" font-size="31.07" font-weight="normal" fill="#000" stroke="#000" stroke-width="1.0" stroke-linejoin="round">6</text>
<rect x="1298.80" y="571.15" width="6.40" height="2.3" fill="#000"/>
<text transform="translate(1306.78,576.80) scale(0.8376,1)" font-size="31.07" font-weight="normal" fill="#000" stroke="#000" stroke-width="1.0" stroke-linejoin="round">5</text>
<rect x="1390.20" y="571.15" width="5.60" height="2.3" fill="#000"/>
<text transform="translate(1396.33,576.80) scale(0.9737,1)" font-size="31.07" font-weight="normal" fill="#000" stroke="#000" stroke-width="1.0" stroke-linejoin="round">4</text>
<rect x="1472.30" y="571.15" width="5.70" height="2.3" fill="#000"/>
<text transform="translate(1478.77,576.80) scale(0.9870,1)" font-size="31.07" font-weight="normal" fill="#000" stroke="#000" stroke-width="1.0" stroke-linejoin="round">3</text>
<text transform="translate(1111.41,622.90) scale(0.9751,1)" font-size="34.50" font-weight="bold" fill="#000">Fasudil Log [M]</text>
<text transform="translate(821.80,414.02) rotate(-90) scale(0.9682,1)" font-size="38" font-weight="bold">% Relaxation</text>
<ellipse cx="960.20" cy="433.00" rx="9.40" ry="8.90" fill="#fff" stroke="#000" stroke-width="2.2"/>
<text transform="translate(986.63,442.88) scale(0.9931,1)" font-size="29.94" font-weight="normal" fill="#000" stroke="#000" stroke-width="0.25" stroke-linejoin="round">db/+</text>
<text transform="translate(1054.77,442.88) scale(0.9709,1)" font-size="29.94" font-weight="normal" fill="#000" stroke="#000" stroke-width="0.25" stroke-linejoin="round">+vehicle</text>
<rect x="950.45" y="479.65" width="16.30" height="16.30" fill="#fff" stroke="#000" stroke-width="2.2"/>
<text transform="translate(989.25,496.98) scale(0.9765,1)" font-size="29.94" font-weight="normal" fill="#000" stroke="#000" stroke-width="0.25" stroke-linejoin="round">db/db</text>
<text transform="translate(1072.97,496.98) scale(0.9709,1)" font-size="29.94" font-weight="normal" fill="#000" stroke="#000" stroke-width="0.25" stroke-linejoin="round">+vehicle</text>
<polyline points="948.00,128.50 949.15,128.50 950.31,128.50 951.46,128.50 952.61,128.50 953.76,128.51 954.92,128.51 956.07,128.51 957.22,128.51 958.38,128.51 959.53,128.51 960.68,128.52 961.83,128.52 962.99,128.52 964.14,128.52 965.29,128.52 966.45,128.52 967.60,128.53 968.75,128.53 969.90,128.53 971.06,128.53 972.21,128.54 973.36,128.54 974.52,128.54 975.67,128.54 976.82,128.54 977.97,128.55 979.13,128.55 980.28,128.55 981.43,128.55 982.59,128.56 983.74,128.56 984.89,128.56 986.05,128.57 987.20,128.57 988.35,128.57 989.50,128.57 990.66,128.58 991.81,128.58 992.96,128.58 994.12,128.58 995.27,128.59 996.42,128.59 997.57,128.59 998.73,128.60 999.88,128.60 1001.03,128.60 1002.19,128.61 1003.34,128.61 1004.49,128.61 1005.64,128.62 1006.80,128.62 1007.95,128.62 1009.10,128.63 1010.26,128.63 1011.41,128.63 1012.56,128.64 1013.71,128.64 1014.87,128.65 1016.02,128.65 1017.17,128.65 1018.33,128.66 1019.48,128.66 1020.63,128.67 1021.78,128.67 1022.94,128.67 1024.09,128.68 1025.24,128.68 1026.40,128.69 1027.55,128.69 1028.70,128.70 1029.85,128.70 1031.01,128.71 1032.16,128.71 1033.31,128.72 1034.47,128.72 1035.62,128.73 1036.77,128.73 1037.92,128.74 1039.08,128.74 1040.23,128.75 1041.38,128.76 1042.54,128.76 1043.69,128.77 1044.84,128.77 1045.99,128.78 1047.15,128.78 1048.30,128.79 1049.45,128.80 1050.61,128.80 1051.76,128.81 1052.91,128.82 1054.07,128.82 1055.22,128.83 1056.37,128.83 1057.52,128.84 1058.68,128.85 1059.83,128.85 1060.98,128.86 1062.14,128.87 1063.29,128.87 1064.44,128.88 1065.59,128.89 1066.75,128.89 1067.90,128.90 1069.05,128.91 1070.21,128.91 1071.36,128.92 1072.51,128.93 1073.66,128.94 1074.82,128.95 1075.97,128.96 1077.12,128.96 1078.28,128.97 1079.43,128.98 1080.58,128.99 1081.73,129.00 1082.89,129.01 1084.04,129.02 1085.19,129.03 1086.35,129.04 1087.50,129.05 1088.65,129.07 1089.80,129.08 1090.96,129.09 1092.11,129.10 1093.26,129.12 1094.42,129.13 1095.57,129.14 1096.72,129.16 1097.87,129.17 1099.03,129.19 1100.18,129.20 1101.33,129.22 1102.49,129.24 1103.64,129.26 1104.79,129.28 1105.94,129.31 1107.10,129.34 1108.25,129.37 1109.40,129.40 1110.56,129.44 1111.71,129.47 1112.86,129.51 1114.02,129.55 1115.17,129.59 1116.32,129.63 1117.47,129.68 1118.63,129.72 1119.78,129.77 1120.93,129.82 1122.09,129.87 1123.24,129.92 1124.39,129.97 1125.54,130.03 1126.70,130.08 1127.85,130.14 1129.00,130.20 1130.16,130.26 1131.31,130.32 1132.46,130.38 1133.61,130.44 1134.77,130.50 1135.92,130.57 1137.07,130.63 1138.23,130.70 1139.38,130.76 1140.53,130.83 1141.68,130.90 1142.84,130.97 1143.99,131.05 1145.14,131.13 1146.30,131.21 1147.45,131.30 1148.60,131.39 1149.75,131.48 1150.91,131.57 1152.06,131.67 1153.21,131.77 1154.37,131.87 1155.52,131.98 1156.67,132.09 1157.82,132.20 1158.98,132.32 1160.13,132.44 1161.28,132.56 1162.44,132.68 1163.59,132.81 1164.74,132.94 1165.89,133.07 1167.05,133.20 1168.20,133.34 1169.35,133.48 1170.51,133.63 1171.66,133.77 1172.81,133.92 1173.96,134.07 1175.12,134.23 1176.27,134.38 1177.42,134.54 1178.58,134.70 1179.73,134.87 1180.88,135.04 1182.04,135.21 1183.19,135.38 1184.34,135.55 1185.49,135.73 1186.65,135.92 1187.80,136.11 1188.95,136.31 1190.11,136.52 1191.26,136.73 1192.41,136.95 1193.56,137.17 1194.72,137.41 1195.87,137.65 1197.02,137.90 1198.18,138.15 1199.33,138.42 1200.48,138.69 1201.63,138.96 1202.79,139.25 1203.94,139.54 1205.09,139.84 1206.25,140.15 1207.40,140.47 1208.55,140.80 1209.70,141.13 1210.86,141.47 1212.01,141.82 1213.16,142.18 1214.32,142.55 1215.47,142.93 1216.62,143.32 1217.77,143.71 1218.93,144.12 1220.08,144.53 1221.23,144.97 1222.39,145.44 1223.54,145.94 1224.69,146.48 1225.84,147.05 1227.00,147.65 1228.15,148.27 1229.30,148.92 1230.46,149.60 1231.61,150.30 1232.76,151.02 1233.91,151.77 1235.07,152.53 1236.22,153.32 1237.37,154.12 1238.53,154.94 1239.68,155.77 1240.83,156.62 1241.98,157.49 1243.14,158.40 1244.29,159.34 1245.44,160.31 1246.60,161.32 1247.75,162.37 1248.90,163.45 1250.06,164.57 1251.21,165.73 1252.36,166.93 1253.51,168.17 1254.67,169.45 1255.82,170.78 1256.97,172.16 1258.13,173.58 1259.28,175.05 1260.43,176.58 1261.58,178.24 1262.74,180.04 1263.89,181.96 1265.04,183.99 1266.20,186.12 1267.35,188.33 1268.50,190.62 1269.65,192.97 1270.81,195.36 1271.96,197.79 1273.11,200.24 1274.27,202.78 1275.42,205.46 1276.57,208.26 1277.72,211.14 1278.88,214.09 1280.03,217.09 1281.18,220.11 1282.34,223.13 1283.49,226.13 1284.64,229.09 1285.79,231.99 1286.95,234.86 1288.10,237.70 1289.25,240.54 1290.41,243.40 1291.56,246.28 1292.71,249.22 1293.86,252.22 1295.02,255.30 1296.17,258.48 1297.32,261.83 1298.48,265.34 1299.63,268.97 1300.78,272.68 1301.93,276.41 1303.09,280.13 1304.24,283.78 1305.39,287.32 1306.55,290.72 1307.70,293.92 1308.85,296.96 1310.01,299.88 1311.16,302.71 1312.31,305.51 1313.46,308.30 1314.62,311.12 1315.77,314.02 1316.92,317.04 1318.08,320.21 1319.23,323.54 1320.38,327.01 1321.53,330.58 1322.69,334.23 1323.84,337.96 1324.99,341.72 1326.15,345.50 1327.30,349.28 1328.45,353.03 1329.60,356.74 1330.76,360.42 1331.91,364.17 1333.06,367.97 1334.22,371.80 1335.37,375.62 1336.52,379.40 1337.67,383.12 1338.83,386.75 1339.98,390.25 1341.13,393.60 1342.29,396.77 1343.44,399.82 1344.59,402.80 1345.74,405.70 1346.90,408.53 1348.05,411.30 1349.20,414.01 1350.36,416.65 1351.51,419.25 1352.66,421.79 1353.81,424.29 1354.97,426.75 1356.12,429.17 1357.27,431.57 1358.43,433.97 1359.58,436.40 1360.73,438.82 1361.88,441.23 1363.04,443.58 1364.19,445.88 1365.34,448.09 1366.50,450.19 1367.65,452.17 1368.80,454.00 1369.95,455.66 1371.11,457.13 1372.26,458.46 1373.41,459.69 1374.57,460.84 1375.72,461.91 1376.87,462.93 1378.03,463.90 1379.18,464.83 1380.33,465.75 1381.48,466.66 1382.64,467.57 1383.79,468.49 1384.94,469.45 1386.10,470.44 1387.25,471.44 1388.40,472.45 1389.55,473.46 1390.71,474.46 1391.86,475.44 1393.01,476.39 1394.17,477.31 1395.32,478.18 1396.47,479.01 1397.62,479.77 1398.78,480.47 1399.93,481.15 1401.08,481.79 1402.24,482.41 1403.39,483.00 1404.54,483.56 1405.69,484.08 1406.85,484.56 1408.00,485.00" fill="none" stroke="#000" stroke-width="1.6" stroke-linejoin="round"/>
<polyline points="948.00,128.50 949.15,128.50 950.31,128.50 951.46,128.50 952.61,128.50 953.76,128.50 954.92,128.50 956.07,128.50 957.22,128.50 958.38,128.51 959.53,128.51 960.68,128.51 961.83,128.51 962.99,128.51 964.14,128.51 965.29,128.51 966.45,128.52 967.60,128.52 968.75,128.52 969.90,128.52 971.06,128.52 972.21,128.53 973.36,128.53 974.52,128.53 975.67,128.53 976.82,128.54 977.97,128.54 979.13,128.54 980.28,128.54 981.43,128.55 982.59,128.55 983.74,128.55 984.89,128.56 986.05,128.56 987.20,128.56 988.35,128.57 989.50,128.57 990.66,128.57 991.81,128.58 992.96,128.58 994.12,128.58 995.27,128.59 996.42,128.59 997.57,128.59 998.73,128.60 999.88,128.60 1001.03,128.60 1002.19,128.61 1003.34,128.61 1004.49,128.62 1005.64,128.62 1006.80,128.62 1007.95,128.63 1009.10,128.63 1010.26,128.64 1011.41,128.64 1012.56,128.65 1013.71,128.66 1014.87,128.66 1016.02,128.67 1017.17,128.68 1018.33,128.68 1019.48,128.69 1020.63,128.70 1021.78,128.70 1022.94,128.71 1024.09,128.72 1025.24,128.73 1026.40,128.74 1027.55,128.75 1028.70,128.76 1029.85,128.77 1031.01,128.78 1032.16,128.79 1033.31,128.80 1034.47,128.81 1035.62,128.82 1036.77,128.83 1037.92,128.85 1039.08,128.86 1040.23,128.87 1041.38,128.89 1042.54,128.90 1043.69,128.91 1044.84,128.93 1045.99,128.94 1047.15,128.96 1048.30,128.98 1049.45,128.99 1050.61,129.01 1051.76,129.03 1052.91,129.05 1054.07,129.08 1055.22,129.11 1056.37,129.15 1057.52,129.18 1058.68,129.22 1059.83,129.27 1060.98,129.32 1062.14,129.37 1063.29,129.42 1064.44,129.48 1065.59,129.54 1066.75,129.60 1067.90,129.67 1069.05,129.74 1070.21,129.81 1071.36,129.89 1072.51,129.96 1073.66,130.05 1074.82,130.13 1075.97,130.22 1077.12,130.31 1078.28,130.40 1079.43,130.50 1080.58,130.60 1081.73,130.70 1082.89,130.80 1084.04,130.91 1085.19,131.02 1086.35,131.15 1087.50,131.30 1088.65,131.47 1089.80,131.67 1090.96,131.88 1092.11,132.12 1093.26,132.37 1094.42,132.63 1095.57,132.90 1096.72,133.19 1097.87,133.48 1099.03,133.78 1100.18,134.09 1101.33,134.40 1102.49,134.72 1103.64,135.03 1104.79,135.34 1105.94,135.66 1107.10,135.99 1108.25,136.33 1109.40,136.68 1110.56,137.05 1111.71,137.43 1112.86,137.81 1114.02,138.21 1115.17,138.61 1116.32,139.03 1117.47,139.45 1118.63,139.87 1119.78,140.31 1120.93,140.75 1122.09,141.19 1123.24,141.64 1124.39,142.09 1125.54,142.54 1126.70,143.00 1127.85,143.45 1129.00,143.91 1130.16,144.37 1131.31,144.82 1132.46,145.27 1133.61,145.71 1134.77,146.15 1135.92,146.58 1137.07,147.02 1138.23,147.47 1139.38,147.92 1140.53,148.38 1141.68,148.86 1142.84,149.35 1143.99,149.87 1145.14,150.40 1146.30,150.97 1147.45,151.56 1148.60,152.19 1149.75,152.85 1150.91,153.57 1152.06,154.35 1153.21,155.21 1154.37,156.13 1155.52,157.10 1156.67,158.14 1157.82,159.22 1158.98,160.35 1160.13,161.51 1161.28,162.72 1162.44,163.95 1163.59,165.21 1164.74,166.50 1165.89,167.80 1167.05,169.11 1168.20,170.43 1169.35,171.75 1170.51,173.06 1171.66,174.38 1172.81,175.68 1173.96,176.96 1175.12,178.27 1176.27,179.63 1177.42,181.03 1178.58,182.45 1179.73,183.88 1180.88,185.31 1182.04,186.71 1183.19,188.07 1184.34,189.38 1185.49,190.66 1186.65,191.90 1187.80,193.13 1188.95,194.35 1190.11,195.55 1191.26,196.74 1192.41,197.93 1193.56,199.12 1194.72,200.31 1195.87,201.50 1197.02,202.68 1198.18,203.86 1199.33,205.03 1200.48,206.19 1201.63,207.35 1202.79,208.50 1203.94,209.65 1205.09,210.80 1206.25,211.95 1207.40,213.10 1208.55,214.25 1209.70,215.40 1210.86,216.56 1212.01,217.72 1213.16,218.89 1214.32,220.07 1215.47,221.25 1216.62,222.44 1217.77,223.64 1218.93,224.86 1220.08,226.09 1221.23,227.33 1222.39,228.60 1223.54,229.88 1224.69,231.17 1225.84,232.47 1227.00,233.77 1228.15,235.06 1229.30,236.33 1230.46,237.58 1231.61,238.80 1232.76,240.02 1233.91,241.23 1235.07,242.47 1236.22,243.73 1237.37,245.05 1238.53,246.42 1239.68,247.85 1240.83,249.31 1241.98,250.81 1243.14,252.33 1244.29,253.90 1245.44,255.51 1246.60,257.17 1247.75,258.88 1248.90,260.65 1250.06,262.49 1251.21,264.39 1252.36,266.37 1253.51,268.44 1254.67,270.72 1255.82,273.19 1256.97,275.80 1258.13,278.52 1259.28,281.30 1260.43,284.11 1261.58,286.89 1262.74,289.61 1263.89,292.22 1265.04,294.69 1266.20,297.00 1267.35,299.20 1268.50,301.35 1269.65,303.48 1270.81,305.64 1271.96,307.88 1273.11,310.24 1274.27,312.69 1275.42,315.22 1276.57,317.80 1277.72,320.44 1278.88,323.12 1280.03,325.85 1281.18,328.62 1282.34,331.42 1283.49,334.25 1284.64,337.11 1285.79,340.00 1286.95,342.95 1288.10,345.96 1289.25,349.03 1290.41,352.13 1291.56,355.25 1292.71,358.39 1293.86,361.53 1295.02,364.66 1296.17,367.78 1297.32,370.87 1298.48,374.02 1299.63,377.24 1300.78,380.50 1301.93,383.77 1303.09,387.01 1304.24,390.20 1305.39,393.29 1306.55,396.25 1307.70,399.06 1308.85,401.68 1310.01,404.16 1311.16,406.62 1312.31,409.05 1313.46,411.42 1314.62,413.71 1315.77,415.91 1316.92,418.00 1318.08,419.96 1319.23,421.77 1320.38,423.41 1321.53,424.87 1322.69,426.15 1323.84,427.35 1324.99,428.50 1326.15,429.58 1327.30,430.61 1328.45,431.57 1329.60,432.48 1330.76,433.33 1331.91,434.12 1333.06,434.86 1334.22,435.55 1335.37,436.18 1336.52,436.76 1337.67,437.29 1338.83,437.78 1339.98,438.24 1341.13,438.67 1342.29,439.07 1343.44,439.46 1344.59,439.83 1345.74,440.19 1346.90,440.56 1348.05,440.93 1349.20,441.30 1350.36,441.69 1351.51,442.10 1352.66,442.53 1353.81,442.96 1354.97,443.38 1356.12,443.82 1357.27,444.25 1358.43,444.68 1359.58,445.11 1360.73,445.53 1361.88,445.96 1363.04,446.41 1364.19,446.91 1365.34,447.44 1366.50,447.96 1367.65,448.46 1368.80,448.90 1369.95,449.26 1371.11,449.50 1372.26,449.61 1373.41,449.68 1374.57,449.73 1375.72,449.79 1376.87,449.83 1378.03,449.88 1379.18,449.91 1380.33,449.95 1381.48,449.98 1382.64,450.01 1383.79,450.04 1384.94,450.06 1386.10,450.09 1387.25,450.11 1388.40,450.13 1389.55,450.15 1390.71,450.17 1391.86,450.18 1393.01,450.20 1394.17,450.22 1395.32,450.24 1396.47,450.27 1397.62,450.29 1398.78,450.32 1399.93,450.34 1401.08,450.37 1402.24,450.39 1403.39,450.41 1404.54,450.44 1405.69,450.46 1406.85,450.48 1408.00,450.50" fill="none" stroke="#000" stroke-width="1.6" stroke-linejoin="round"/>
<ellipse cx="960.80" cy="121.00" rx="8.60" ry="9.10" fill="#fff" stroke="#000" stroke-width="2.2"/>
<ellipse cx="1005.50" cy="124.00" rx="8.60" ry="9.10" fill="#fff" stroke="#000" stroke-width="2.2"/>
<ellipse cx="1050.00" cy="124.00" rx="8.60" ry="9.10" fill="#fff" stroke="#000" stroke-width="2.2"/>
<ellipse cx="1094.50" cy="127.50" rx="8.60" ry="9.10" fill="#fff" stroke="#000" stroke-width="2.2"/>
<line x1="1140.30" y1="131.70" x2="1140.30" y2="117.40" stroke="#000" stroke-width="2.2" stroke-linecap="butt"/>
<line x1="1130.60" y1="117.40" x2="1150.00" y2="117.40" stroke="#000" stroke-width="2.2" stroke-linecap="butt"/>
<ellipse cx="1140.30" cy="131.70" rx="8.60" ry="9.10" fill="#fff" stroke="#000" stroke-width="2.2"/>
<line x1="1183.90" y1="134.80" x2="1183.90" y2="117.60" stroke="#000" stroke-width="2.2" stroke-linecap="butt"/>
<line x1="1174.20" y1="117.60" x2="1193.60" y2="117.60" stroke="#000" stroke-width="2.2" stroke-linecap="butt"/>
<ellipse cx="1183.90" cy="134.80" rx="8.60" ry="9.10" fill="#fff" stroke="#000" stroke-width="2.2"/>
<line x1="1229.20" y1="151.30" x2="1229.20" y2="128.80" stroke="#000" stroke-width="2.2" stroke-linecap="butt"/>
<line x1="1219.50" y1="128.80" x2="1238.90" y2="128.80" stroke="#000" stroke-width="2.2" stroke-linecap="butt"/>
<ellipse cx="1229.20" cy="151.30" rx="8.60" ry="9.10" fill="#fff" stroke="#000" stroke-width="2.2"/>
<line x1="1273.00" y1="203.60" x2="1273.00" y2="172.40" stroke="#000" stroke-width="2.2" stroke-linecap="butt"/>
<line x1="1263.30" y1="172.40" x2="1282.70" y2="172.40" stroke="#000" stroke-width="2.2" stroke-linecap="butt"/>
<ellipse cx="1273.00" cy="203.60" rx="8.60" ry="9.10" fill="#fff" stroke="#000" stroke-width="2.2"/>
<line x1="1318.20" y1="312.30" x2="1318.20" y2="288.20" stroke="#000" stroke-width="2.2" stroke-linecap="butt"/>
<line x1="1308.50" y1="288.20" x2="1327.90" y2="288.20" stroke="#000" stroke-width="2.2" stroke-linecap="butt"/>
<ellipse cx="1318.20" cy="312.30" rx="8.60" ry="9.10" fill="#fff" stroke="#000" stroke-width="2.2"/>
<line x1="1361.80" y1="450.70" x2="1361.80" y2="414.30" stroke="#000" stroke-width="2.2" stroke-linecap="butt"/>
<line x1="1352.10" y1="414.30" x2="1371.50" y2="414.30" stroke="#000" stroke-width="2.2" stroke-linecap="butt"/>
<ellipse cx="1361.80" cy="450.70" rx="8.60" ry="9.10" fill="#fff" stroke="#000" stroke-width="2.2"/>
<line x1="1408.00" y1="485.10" x2="1408.00" y2="466.70" stroke="#000" stroke-width="2.2" stroke-linecap="butt"/>
<line x1="1398.30" y1="466.70" x2="1417.70" y2="466.70" stroke="#000" stroke-width="2.2" stroke-linecap="butt"/>
<ellipse cx="1408.00" cy="485.10" rx="8.60" ry="9.10" fill="#fff" stroke="#000" stroke-width="2.2"/>
<rect x="950.90" y="111.15" width="19.60" height="19.30" fill="#fff" stroke="#000" stroke-width="2.2"/>
<line x1="1005.50" y1="121.20" x2="1005.50" y2="110.20" stroke="#000" stroke-width="2.2" stroke-linecap="butt"/>
<line x1="995.80" y1="110.20" x2="1015.20" y2="110.20" stroke="#000" stroke-width="2.2" stroke-linecap="butt"/>
<rect x="996.70" y="111.55" width="17.60" height="19.30" fill="#fff" stroke="#000" stroke-width="2.2"/>
<line x1="1050.00" y1="122.60" x2="1050.00" y2="111.80" stroke="#000" stroke-width="2.2" stroke-linecap="butt"/>
<line x1="1040.30" y1="111.80" x2="1059.70" y2="111.80" stroke="#000" stroke-width="2.2" stroke-linecap="butt"/>
<rect x="1040.70" y="112.95" width="19.40" height="19.30" fill="#fff" stroke="#000" stroke-width="2.2"/>
<line x1="1094.50" y1="128.00" x2="1094.50" y2="110.80" stroke="#000" stroke-width="2.2" stroke-linecap="butt"/>
<line x1="1084.80" y1="110.80" x2="1104.20" y2="110.80" stroke="#000" stroke-width="2.2" stroke-linecap="butt"/>
<rect x="1085.70" y="118.35" width="17.60" height="19.30" fill="#fff" stroke="#000" stroke-width="2.2"/>
<line x1="1140.30" y1="147.80" x2="1140.30" y2="137.50" stroke="#000" stroke-width="2.2" stroke-linecap="butt"/>
<line x1="1130.60" y1="137.50" x2="1150.00" y2="137.50" stroke="#000" stroke-width="2.2" stroke-linecap="butt"/>
<rect x="1131.50" y="138.15" width="17.60" height="19.30" fill="#fff" stroke="#000" stroke-width="2.2"/>
<line x1="1183.90" y1="191.60" x2="1183.90" y2="158.70" stroke="#000" stroke-width="2.2" stroke-linecap="butt"/>
<line x1="1174.20" y1="158.70" x2="1193.60" y2="158.70" stroke="#000" stroke-width="2.2" stroke-linecap="butt"/>
<rect x="1175.10" y="181.95" width="17.60" height="19.30" fill="#fff" stroke="#000" stroke-width="2.2"/>
<line x1="1229.20" y1="235.50" x2="1229.20" y2="202.20" stroke="#000" stroke-width="2.2" stroke-linecap="butt"/>
<line x1="1219.50" y1="202.20" x2="1238.90" y2="202.20" stroke="#000" stroke-width="2.2" stroke-linecap="butt"/>
<rect x="1220.40" y="225.85" width="17.60" height="19.30" fill="#fff" stroke="#000" stroke-width="2.2"/>
<line x1="1273.00" y1="308.40" x2="1273.00" y2="277.30" stroke="#000" stroke-width="2.2" stroke-linecap="butt"/>
<line x1="1263.30" y1="277.30" x2="1282.70" y2="277.30" stroke="#000" stroke-width="2.2" stroke-linecap="butt"/>
<rect x="1264.20" y="298.75" width="17.60" height="19.30" fill="#fff" stroke="#000" stroke-width="2.2"/>
<line x1="1318.20" y1="413.30" x2="1318.20" y2="395.70" stroke="#000" stroke-width="2.2" stroke-linecap="butt"/>
<line x1="1308.50" y1="395.70" x2="1327.90" y2="395.70" stroke="#000" stroke-width="2.2" stroke-linecap="butt"/>
<rect x="1309.40" y="403.65" width="17.60" height="19.30" fill="#fff" stroke="#000" stroke-width="2.2"/>
<rect x="1353.00" y="435.65" width="17.60" height="19.30" fill="#fff" stroke="#000" stroke-width="2.2"/>
<line x1="1408.00" y1="445.50" x2="1408.00" y2="434.50" stroke="#000" stroke-width="2.2" stroke-linecap="butt"/>
<line x1="1398.30" y1="434.50" x2="1417.70" y2="434.50" stroke="#000" stroke-width="2.2" stroke-linecap="butt"/>
<rect x="1399.20" y="435.85" width="17.60" height="19.30" fill="#fff" stroke="#000" stroke-width="2.2"/>
<line x1="1228.00" y1="187.30" x2="1227.70" y2="184.40" stroke="#000" stroke-width="1.6" stroke-linecap="round"/>
<line x1="1228.00" y1="187.30" x2="1223.10" y2="186.50" stroke="#000" stroke-width="1.6" stroke-linecap="round"/>
<line x1="1228.00" y1="187.30" x2="1232.90" y2="186.50" stroke="#000" stroke-width="1.6" stroke-linecap="round"/>
<line x1="1228.00" y1="187.30" x2="1225.00" y2="191.10" stroke="#000" stroke-width="1.6" stroke-linecap="round"/>
<line x1="1228.00" y1="187.30" x2="1231.00" y2="191.10" stroke="#000" stroke-width="1.6" stroke-linecap="round"/>
<line x1="1273.60" y1="256.50" x2="1273.30" y2="253.60" stroke="#000" stroke-width="1.6" stroke-linecap="round"/>
<line x1="1273.60" y1="256.50" x2="1268.70" y2="255.70" stroke="#000" stroke-width="1.6" stroke-linecap="round"/>
<line x1="1273.60" y1="256.50" x2="1278.50" y2="255.70" stroke="#000" stroke-width="1.6" stroke-linecap="round"/>
<line x1="1273.60" y1="256.50" x2="1270.60" y2="260.30" stroke="#000" stroke-width="1.6" stroke-linecap="round"/>
<line x1="1273.60" y1="256.50" x2="1276.60" y2="260.30" stroke="#000" stroke-width="1.6" stroke-linecap="round"/>
<line x1="1316.80" y1="381.60" x2="1316.50" y2="378.70" stroke="#000" stroke-width="1.6" stroke-linecap="round"/>
<line x1="1316.80" y1="381.60" x2="1311.90" y2="380.80" stroke="#000" stroke-width="1.6" stroke-linecap="round"/>
<line x1="1316.80" y1="381.60" x2="1321.70" y2="380.80" stroke="#000" stroke-width="1.6" stroke-linecap="round"/>
<line x1="1316.80" y1="381.60" x2="1313.80" y2="385.40" stroke="#000" stroke-width="1.6" stroke-linecap="round"/>
<line x1="1316.80" y1="381.60" x2="1319.80" y2="385.40" stroke="#000" stroke-width="1.6" stroke-linecap="round"/>
</svg>
</body></html>
